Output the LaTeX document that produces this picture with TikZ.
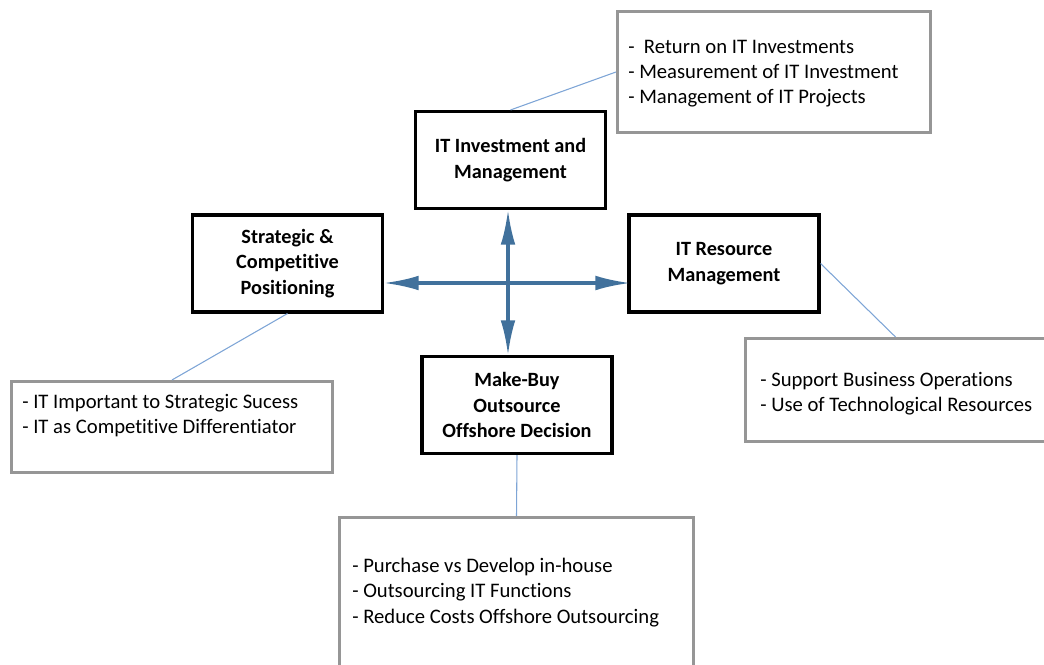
\documentclass[tikz,border=0pt]{standalone}
\usepackage{fontspec}
\setmainfont{Carlito}[Ligatures={NoCommon}]
\usetikzlibrary{arrows.meta,positioning}
\definecolor{arrowblue}{RGB}{65,113,156}
\definecolor{linkblue}{RGB}{126,165,214}
\definecolor{boxgray}{RGB}{150,150,150}

\begin{document}
\begin{tikzpicture}[x=0.75pt, y=-0.75pt]
		\useasboundingbox (0,0) rectangle (1044,664);
		\clip (0,0) rectangle (1044,664);
		\begin{scope}[every node/.style={rectangle, draw=black, line width=2.3pt, fill=white, minimum width=142.5pt, minimum height=72.75pt, align=center, font=\fontsize{15.2}{19.3}\selectfont\bfseries}]
			\node (inv) at (510.5,160) {IT Investment and\\Management};
			\node (strat) at (287.5,263.5) {Strategic \&\\Competitive\\Positioning};
			\node (res) at (724,263.5) {IT Resource\\Management};
			\node (mb) at (517,405) {Make-Buy\\Outsource\\Offshore Decision};
		\end{scope}
		\begin{scope}[every node/.style={rectangle, draw=boxgray, line width=2.3pt}]
			\node[minimum width=234.75pt, minimum height=90.75pt] (invbox) at (774,72) {};
			\node[minimum width=225pt, minimum height=77.25pt] (resbox) at (895.5,390) {};
			\node[minimum width=240.75pt, minimum height=68.25pt] (stratbox) at (172,427) {};
			\node[minimum width=265.5pt, minimum height=111.75pt] (mbbox) at (516.5,592) {};
		\end{scope}
		\begin{scope}[every node/.style={anchor=west, align=left, inner sep=0pt, font=\fontsize{15.5}{19}\selectfont}]
			\node (invlist) at (628,73.5) {-\ \ Return on IT Investments\\- Measurement of IT Investment\\- Management of IT Projects};
			\node (reslist) at (760,393.5) {- Support Business Operations\\- Use of Technological Resources};
			\node (stratlist) at (22,415.5) {- IT Important to Strategic Sucess\\- IT as Competitive Differentiator};
			\node (mblist) at (352,592.5) {- Purchase vs Develop in-house\\- Outsourcing IT Functions\\- Reduce Costs Offshore Outsourcing};
		\end{scope}
		\begin{scope}[every path/.style={draw=linkblue, line width=0.8pt}]
			\path (inv.north) -- (invbox.west);
			\path (res.east) -- (resbox.north);
			\path (strat.south) -- (stratbox.north);
			\path (mb.south) -- (mbbox.north);
		\end{scope}
		\coordinate (hub) at (508,283);
		\begin{scope}[every path/.style={draw=arrowblue, line width=2.3pt, {Latex[length=26pt,width=11pt]}-{Latex[length=26pt,width=11pt]}}]
			\path (inv.south -| hub) -- (mb.north -| hub);
			\path (strat.east |- hub) -- ([xshift=2pt]res.west |- hub);
		\end{scope}
	\end{tikzpicture}
\end{document}
